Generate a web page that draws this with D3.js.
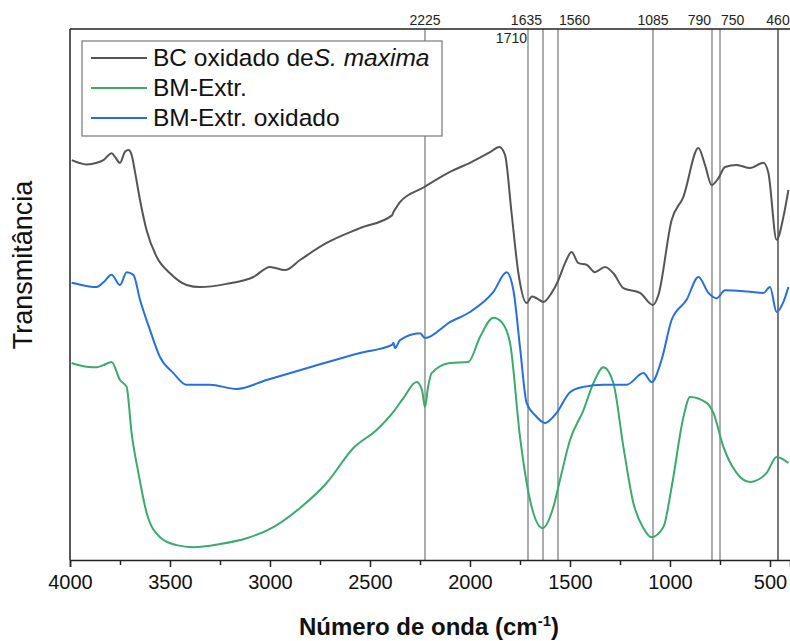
<!DOCTYPE html>
<html>
<head>
<meta charset="utf-8">
<script src="https://cdn.jsdelivr.net/npm/d3@7"></script>
<style>
  body { margin: 0; background: #fff; }
  text { font-family: "Liberation Sans", Arial, sans-serif; }
</style>
</head>
<body>
<svg id="chart" width="790" height="641"></svg>
<script>
// Spectra (wavenumber in cm-1, transmittance in arbitrary units)
var bcWn = [3991, 3917, 3866, 3833, 3791, 3775, 3750, 3725, 3708, 3692, 3675, 3650, 3617, 3567, 3500, 3417, 3350, 3217, 3083, 3000, 2925, 2850, 2717, 2550, 2390, 2383, 2370, 2350, 2235, 2100, 2000, 1900, 1853, 1825, 1792, 1758, 1717, 1690, 1667, 1633, 1592, 1558, 1525, 1492, 1458, 1417, 1375, 1325, 1283, 1233, 1150, 1085, 1058, 992, 933, 858, 825, 792, 758, 725, 667, 600, 533, 508, 467, 433, 408];
var bcT  = [75.3, 74.5, 74.8, 75.3, 76.6, 75.9, 74.8, 76.9, 77.2, 76.3, 73.1, 67.8, 62.1, 57.1, 54.0, 51.8, 51.4, 52.0, 53.3, 55.2, 54.6, 56.5, 59.7, 62.5, 64.9, 65.5, 66.3, 67.4, 70.1, 73.1, 74.8, 76.8, 77.8, 76.3, 65.3, 54.0, 48.4, 49.6, 49.3, 48.6, 50.3, 52.7, 55.9, 58.0, 55.9, 55.6, 54.2, 55.2, 54.0, 51.2, 50.3, 48.0, 49.9, 64.0, 68.4, 77.6, 74.4, 70.6, 71.9, 74.0, 74.4, 73.8, 74.8, 72.9, 60.3, 64.6, 69.7];

var extrWn = [3992, 3917, 3867, 3833, 3792, 3750, 3717, 3692, 3658, 3617, 3550, 3467, 3383, 3250, 3117, 2983, 2850, 2717, 2583, 2467, 2383, 2333, 2267, 2240, 2225, 2210, 2192, 2100, 2008, 1950, 1883, 1842, 1800, 1750, 1700, 1637, 1583, 1550, 1500, 1433, 1383, 1333, 1283, 1233, 1183, 1133, 1092, 1033, 992, 933, 900, 817, 783, 733, 667, 600, 517, 467, 408];
var extrT  = [37.1, 36.4, 36.3, 36.7, 37.3, 33.9, 32.6, 23.9, 16.4, 8.9, 4.3, 2.8, 2.4, 3.0, 4.1, 6.2, 9.8, 14.5, 21.1, 24.5, 27.9, 30.5, 33.5, 32.0, 28.8, 32.5, 35.2, 37.1, 37.3, 42.0, 45.6, 44.8, 40.9, 23.2, 11.3, 6.0, 10.0, 15.1, 22.6, 28.2, 33.3, 36.3, 33.3, 21.3, 10.7, 6.0, 4.3, 6.2, 13.7, 26.9, 30.7, 29.6, 27.7, 21.3, 16.4, 14.7, 16.4, 19.4, 18.3];

var oxWn = [3992, 3917, 3867, 3833, 3792, 3750, 3717, 3683, 3650, 3600, 3550, 3483, 3417, 3300, 3167, 3017, 2800, 2550, 2390, 2383, 2375, 2350, 2250, 2225, 2100, 2000, 1883, 1817, 1783, 1750, 1717, 1675, 1625, 1567, 1500, 1433, 1333, 1217, 1133, 1092, 1042, 992, 917, 858, 808, 767, 725, 600, 533, 500, 467, 433, 408];
var oxT  = [52.2, 51.6, 51.4, 52.3, 53.7, 51.8, 54.2, 53.7, 49.0, 43.3, 38.2, 35.2, 33.0, 33.0, 32.2, 33.9, 36.3, 39.0, 40.5, 40.9, 39.9, 41.4, 42.7, 41.8, 44.8, 46.7, 50.5, 54.2, 50.8, 40.1, 29.6, 27.3, 25.8, 27.7, 31.6, 32.6, 33.0, 33.0, 35.2, 33.5, 37.7, 45.2, 49.0, 53.3, 50.3, 49.3, 50.8, 50.5, 50.3, 51.4, 46.7, 48.6, 51.4];

// Marked bands
var bands = [2225, 1710, 1635, 1560, 1085, 790, 750, 460];
var xTicks = [4000, 3500, 3000, 2500, 2000, 1500, 1000, 500];

var series = [
  {name: 'bc', wn: bcWn, t: bcT, color: '#555555'},
  {name: 'extr', wn: extrWn, t: extrT, color: '#3aab6b'},
  {name: 'ox', wn: oxWn, t: oxT, color: '#2470e0'}
];

var svg = d3.select('#chart');
var margin = {top: 29, right: 0, bottom: 81, left: 70};
var width = +svg.attr('width') - margin.left - margin.right;
var height = +svg.attr('height') - margin.top - margin.bottom;

var g = svg.append('g')
    .attr('transform', 'translate(' + margin.left + ',' + margin.top + ')');

var x = d3.scaleLinear().domain([4000, 400]).range([0, width]);
var y = d3.scaleLinear().domain([0, 100]).range([height, 0]);

// band markers
g.selectAll('.band')
    .data(bands)
  .enter().append('line')
    .attr('class', 'band')
    .attr('x1', function(d) { return x(d); })
    .attr('x2', function(d) { return x(d); })
    .attr('y1', 0)
    .attr('y2', height)
    .style('stroke', function(d) { return d == 460 ? '#333' : '#808080'; })
    .style('stroke-width', 1.3);

// band labels: anchor
var bandAnchor = {2225: 'middle', 1710: 'end', 1635: 'end', 1560: 'start', 1085: 'middle', 790: 'end', 750: 'start', 460: 'middle'};
g.selectAll('.band-label')
    .data(bands)
  .enter().append('text')
    .attr('class', 'band-label')
    .attr('x', function(d) {
      var a = bandAnchor[d];
      return x(d) + (a == 'end' ? -1 : a == 'start' ? 1 : 0);
    })
    .attr('y', function(d) { return d == 1710 ? 14 : -4; })
    .attr('text-anchor', function(d) { return bandAnchor[d]; })
    .style('font-size', '14px')
    .style('fill', '#222')
    .text(function(d) { return d; });

// spectra
var line = d3.line()
    .x(function(d) { return x(d[0]); })
    .y(function(d) { return y(d[1]); })
    .curve(d3.curveMonotoneX);

series.forEach(function(s) {
  var pts = s.wn.map(function(w, i) { return [w, s.t[i]]; });
  g.append('path')
      .datum(pts)
      .attr('d', line)
      .style('fill', 'none')
      .style('stroke', s.color)
      .style('stroke-width', 2);
});

// frame
g.append('line').attr('x1', 0).attr('x2', width).attr('y1', 0).attr('y2', 0)
    .style('stroke', '#222').style('stroke-width', 1.5);
g.append('line').attr('x1', 0).attr('x2', 0).attr('y1', 0).attr('y2', height)
    .style('stroke', '#222').style('stroke-width', 1.5);

// x axis with minor ticks
var xAxis = g.append('g')
    .attr('transform', 'translate(0,' + height + ')')
    .call(d3.axisBottom(x).tickValues(xTicks).tickSize(7).tickPadding(8).tickFormat(d3.format('d')));
xAxis.select('.domain').style('stroke', '#222').style('stroke-width', 1.5);
xAxis.selectAll('.tick line').style('stroke', '#222').style('stroke-width', 1.5);
xAxis.selectAll('.tick text')
    .style('font-size', '20px')
    .style('font-family', '"Liberation Sans", Arial, sans-serif')
    .style('fill', '#111');

g.append('g')
    .attr('transform', 'translate(0,' + height + ')')
    .call(d3.axisBottom(x).tickValues([3750, 3250, 2750, 2250, 1750, 1250, 750]).tickSize(5).tickFormat(''))
    .call(function(a) { a.select('.domain').remove(); })
    .selectAll('.tick line').style('stroke', '#222').style('stroke-width', 1.5);

// axis titles
var xt = svg.append('text')
    .attr('x', 429)
    .attr('y', 635)
    .attr('text-anchor', 'middle')
    .style('font-size', '24px')
    .style('font-weight', 'bold')
    .style('fill', '#111');
xt.append('tspan').text('Número de onda (cm');
xt.append('tspan').attr('dy', -9).style('font-size', '15px').text('-1');
xt.append('tspan').attr('dy', 9).text(')');

svg.append('text')
    .attr('transform', 'translate(32,265) rotate(-90)')
    .attr('text-anchor', 'middle')
    .style('font-size', '27px')
    .style('fill', '#111')
    .text('Transmitância');

// legend
var legend = svg.append('g').attr('transform', 'translate(82,41)');
legend.append('rect')
    .attr('width', 360)
    .attr('height', 95)
    .style('fill', '#fff')
    .style('stroke', '#777')
    .style('stroke-width', 1.2);

var legendRows = [
  {color: series[0].color, text: 'BC oxidado de', italic: 'S. maxima'},
  {color: series[1].color, text: 'BM-Extr.'},
  {color: series[2].color, text: 'BM-Extr. oxidado'}
];
legendRows.forEach(function(r, i) {
  var cy = 17 + i * 30;
  legend.append('line')
      .attr('x1', 9).attr('x2', 65)
      .attr('y1', cy).attr('y2', cy)
      .style('stroke', r.color)
      .style('stroke-width', 2);
  var t = legend.append('text')
      .attr('x', 71)
      .attr('y', cy + 8)
      .style('font-size', '24.5px')
      .style('fill', '#111');
  t.append('tspan').text(r.text);
  if (r.italic) t.append('tspan').style('font-style', 'italic').text(r.italic);
});
</script>
</body>
</html>
